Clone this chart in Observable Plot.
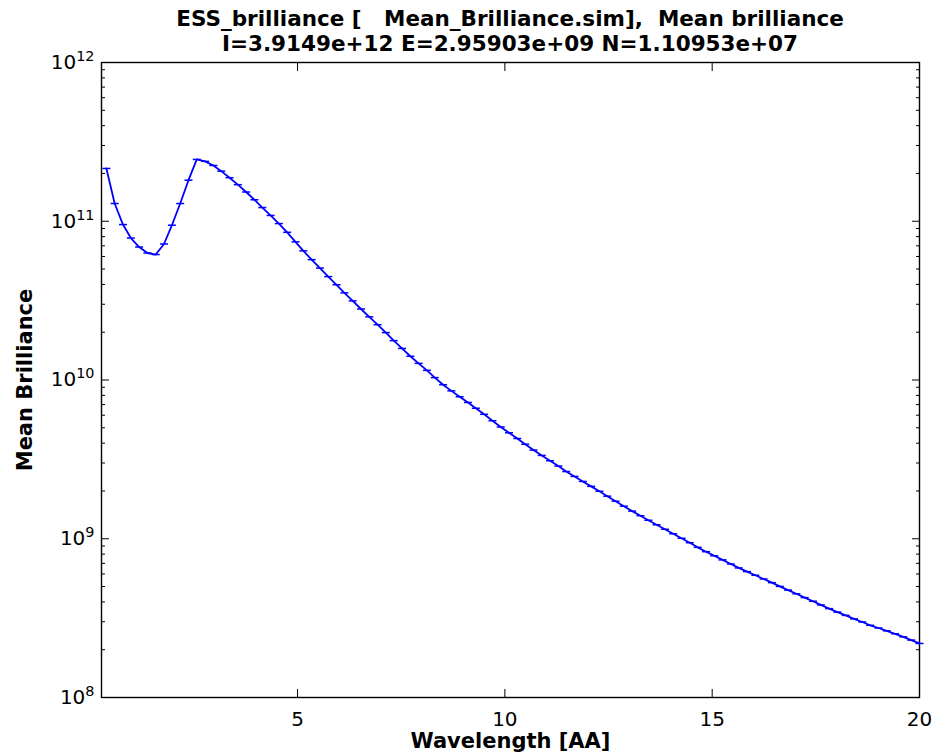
<!DOCTYPE html>
<html><head><meta charset="utf-8">
<script src="https://cdn.jsdelivr.net/npm/d3@7"></script>
<script src="https://cdn.jsdelivr.net/npm/@observablehq/plot@0.6"></script>
<style>
body{margin:0;background:#fff;width:934px;height:756px;overflow:hidden;font-family:"DejaVu Sans",sans-serif}
#title{position:relative;height:56px;padding-top:6px;box-sizing:border-box;margin-left:101px;width:818px;text-align:center;font-weight:bold;font-size:21.5px;line-height:25px;white-space:pre;color:#000}
#chart svg{overflow:visible}
</style></head><body>
<div id="title"><div>ESS_brilliance [   Mean_Brilliance.sim],  Mean brilliance</div><div>I=3.9149e+12 E=2.95903e+09 N=1.10953e+07</div></div>
<div id="chart"></div>
<script>
const wavelength = [0.39,0.59,0.79,0.98,1.18,1.38,1.58,1.78,1.97,2.17,2.37,2.57,2.77,2.97,3.16,3.36,3.56,3.76,3.96,4.15,4.35,4.55,4.75,4.95,5.14,5.34,5.54,5.74,5.94,6.13,6.33,6.53,6.73,6.93,7.13,7.32,7.52,7.72,7.92,8.12,8.31,8.51,8.71,8.91,9.11,9.30,9.50,9.70,9.90,10.10,10.30,10.49,10.69,10.89,11.09,11.29,11.48,11.68,11.88,12.08,12.28,12.47,12.67,12.87,13.07,13.27,13.46,13.66,13.86,14.06,14.26,14.46,14.65,14.85,15.05,15.25,15.45,15.64,15.84,16.04,16.24,16.44,16.63,16.83,17.03,17.23,17.43,17.62,17.82,18.02,18.22,18.42,18.62,18.81,19.01,19.21,19.41,19.61,19.80,20.00];
const brilliance = [2.15e11,1.293e11,9.53e10,7.84e10,6.88e10,6.31e10,6.17e10,7.19e10,9.44e10,1.293e11,1.814e11,2.451e11,2.384e11,2.246e11,2.068e11,1.881e11,1.700e11,1.528e11,1.366e11,1.220e11,1.088e11,9.67e10,8.52e10,7.42e10,6.51e10,5.73e10,5.07e10,4.48e10,3.98e10,3.54e10,3.15e10,2.80e10,2.50e10,2.23e10,1.988e10,1.770e10,1.580e10,1.411e10,1.273e10,1.150e10,1.035e10,9.34e9,8.54e9,7.84e9,7.22e9,6.64e9,6.08e9,5.54e9,5.06e9,4.65e9,4.28e9,3.94e9,3.62e9,3.35e9,3.10e9,2.87e9,2.65e9,2.47e9,2.296e9,2.138e9,1.991e9,1.854e9,1.724e9,1.603e9,1.493e9,1.397e9,1.308e9,1.225e9,1.148e9,1.075e9,1.007e9,9.44e8,8.83e8,8.29e8,7.81e8,7.36e8,6.93e8,6.55e8,6.21e8,5.89e8,5.58e8,5.29e8,5.01e8,4.75e8,4.50e8,4.26e8,4.04e8,3.83e8,3.63e8,3.45e8,3.29e8,3.13e8,2.99e8,2.85e8,2.74e8,2.63e8,2.52e8,2.41e8,2.30e8,2.19e8];
const xTicks = [5, 10, 15, 20];
const xTickLabels = ["5", "10", "15", "20"];
const yTicks = [1e8, 1e9, 1e10, 1e11, 1e12];
const yTickBase = "10";
const yTickExponents = ["8", "9", "10", "11", "12"];
const minorDigits = [2, 3, 4, 5, 6, 7, 8, 9];
const decades = [1e8, 1e9, 1e10, 1e11];
const xLabel = "Wavelength [AA]";
const yLabel = "Mean Brilliance";

const data = wavelength.map((x, i) => ({x, y: brilliance[i]}));
const yMinor = decades.flatMap(d => minorDigits.map(m => m * d));
const cap = {draw(context, size) { const r = Math.sqrt(size / Math.PI); context.moveTo(-r, 0); context.lineTo(r, 0); }};
const blank = () => "";

const chart = Plot.plot({
  width: 934, height: 700,
  marginTop: 6, marginBottom: 59, marginLeft: 101, marginRight: 15,
  style: {fontFamily: "DejaVu Sans, sans-serif", fontSize: "20px", color: "black", background: "white", overflow: "visible"},
  x: {domain: [0.272, 20]},
  y: {type: "log", domain: [1e8, 1e12]},
  marks: [
    Plot.axisX(xTicks, {anchor: "bottom", tickSize: -8, tickPadding: 22, label: null, tickFormat: d => xTickLabels[xTicks.indexOf(d)]}),
    Plot.axisX(xTicks, {anchor: "top", tickSize: -8, label: null, tickFormat: blank}),
    Plot.axisY(yTicks, {anchor: "left", tickSize: -8, tickPadding: 15, label: null, tickFormat: d => yTickBase + yTickExponents[yTicks.indexOf(d)]}),
    Plot.axisY(yTicks, {anchor: "right", tickSize: -8, label: null, tickFormat: blank}),
    Plot.axisY(yMinor, {anchor: "left", tickSize: -4, label: null, tickFormat: blank}),
    Plot.axisY(yMinor, {anchor: "right", tickSize: -4, label: null, tickFormat: blank}),
    Plot.frame({stroke: "black", strokeWidth: 1.4}),
    Plot.line(data, {x: "x", y: "y", stroke: "blue", strokeWidth: 1.8}),
    Plot.dot(data, {x: "x", y: "y", symbol: cap, r: 4, stroke: "blue", fill: "none", strokeWidth: 1.5}),
    Plot.text([xLabel], {frameAnchor: "bottom", dy: 44, text: d => d, fontWeight: "bold", fontSize: 21, textAnchor: "middle", lineAnchor: "middle"}),
    Plot.text([yLabel], {frameAnchor: "left", dx: -76, rotate: -90, text: d => d, fontWeight: "bold", fontSize: 21, textAnchor: "middle", lineAnchor: "middle"})
  ]
});
// render exponents of y tick labels as raised, smaller text
d3.select(chart).selectAll('g[aria-label="y-axis tick label"] text').each(function() {
  const t = d3.select(this);
  const s = t.text();
  if (!s.startsWith(yTickBase)) return;
  const exp = s.slice(yTickBase.length);
  t.text(null);
  t.append("tspan").text(yTickBase);
  t.append("tspan").attr("dy", "-0.55em").attr("font-size", "0.72em").text(exp);
});
document.getElementById("chart").appendChild(chart);
</script></body></html>
